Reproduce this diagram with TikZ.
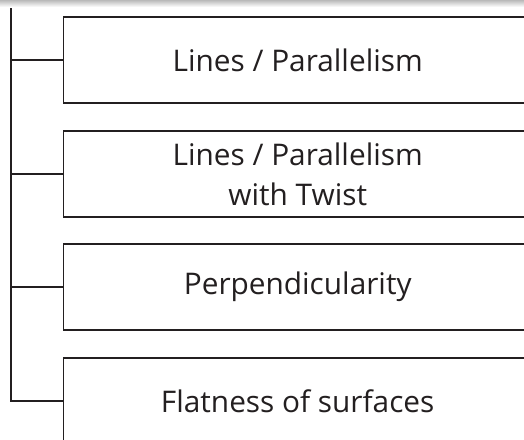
\documentclass[tikz,border=0pt]{standalone}
\usepackage{fontspec}
\setmainfont{Open Sans}
\usepackage{tikz}
\definecolor{inkgray}{HTML}{231F20}

\begin{document}
\begin{tikzpicture}[x=1pt, y=-1pt, font=\fontsize{29.8}{40}\selectfont,
  itembox/.style={draw=inkgray, line width=1.4pt, text=inkgray, align=center,
    minimum width=468pt, minimum height=86pt, inner sep=0pt, anchor=west},
  branch/.style={draw=inkgray, line width=1.6pt}]
  \clip (0,0) rectangle (524,439);
  % shadow band along the top
  \shade[top color=gray!55, bottom color=white] (0,0) rectangle (524,7);

  % boxes
  \node[itembox] (lines) at (63,60) {Lines / Parallelism};
  \node[itembox] (twist) at (63,174) {Lines / Parallelism\\with Twist};
  \node[itembox] (perp) at (63,287) {Perpendicularity};
  \node[itembox] (flat) at (63,401) {Flatness of surfaces};

  % trunk and branches
  \coordinate (trunk) at (11,8);
  \draw[branch] (trunk) |- (flat.west);
  \foreach \b in {lines, twist, perp}
    \draw[branch] (\b.west -| trunk) -- (\b.west);
\end{tikzpicture}
\end{document}
